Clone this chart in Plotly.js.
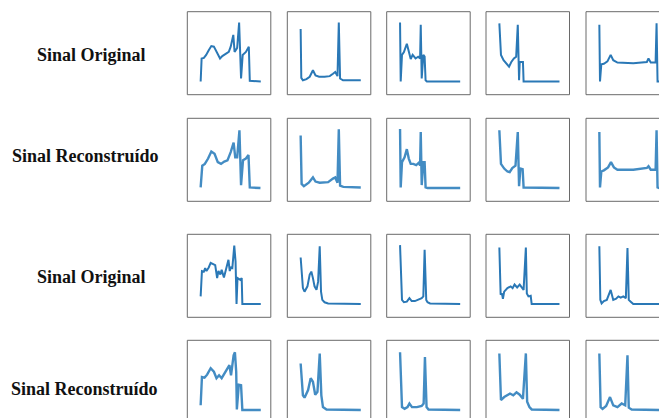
<!DOCTYPE html>
<html>
<head>
<meta charset="utf-8">
<script src="https://cdn.plot.ly/plotly-3.0.1.min.js"></script>
<style>html,body{margin:0;padding:0;background:#fff;}#chart{width:659px;height:418px;}</style>
</head>
<body>
<div id="chart"></div>
<script>
// ---- Row labels ----
const rowLabels = ["Sinal Original", "Sinal Reconstruído", "Sinal Original", "Sinal Reconstruído"];

// ---- Group A: original beats (sample index, normalized amplitude) ----
const o1_1_t = [0,3,10,17,25,33,41,50,60,67,77,87,93,101,105,113,119,125,130,140,149,152,186];
const o1_1_v = [0,0.39,0.40,0.45,0.53,0.60,0.59,0.50,0.39,0.43,0.46,0.50,0.59,0.79,0.50,0.57,1.0,0.05,0.45,0.50,0.59,0.01,0];
const o1_2_t = [0,2,7,18,28,38,46,57,74,90,100,107,114,118,122,131,186];
const o1_2_v = [0.89,0.06,0.02,0.04,0.08,0.19,0.10,0.08,0.08,0.09,0.13,0.16,0.09,1.0,0.05,0.02,0.02];
const o1_3_t = [0,2,6,12,21,27,33,39,48,56,62,64,67,72,76,79,83,186];
const o1_3_v = [1.0,0,0.45,0.50,0.64,0.50,0.38,0.45,0.39,0.42,0.39,0.96,0.05,0.45,0.42,0.02,0,0];
const o1_4_t = [0,5,13,23,30,37,45,52,57,61,63,73,75,186];
const o1_4_v = [0.985,0.45,0.36,0.30,0.25,0.33,0.39,0.42,0.96,0.02,0.33,0.33,0,0];
const o1_5_t = [0,2,6,14,25,35,43,56,105,147,152,159,174,177,180,186];
const o1_5_v = [0.96,0,0.29,0.30,0.34,0.45,0.36,0.32,0.31,0.33,0.39,0.32,0.32,0.985,0,0];

// ---- Group A: reconstructed beats ----
const r1_1_t = [0,5,13,23,33,43,53,63,73,83,93,102,107,113,120,125,131,140,148,152,185];
const r1_1_v = [0.01,0.38,0.41,0.50,0.62,0.58,0.44,0.41,0.45,0.47,0.61,0.77,0.52,0.52,0.98,0.05,0.47,0.50,0.56,0.01,0];
const r1_2_t = [0,3,10,25,38,46,59,85,100,107,114,118,122,132,186];
const r1_2_v = [0.89,0.07,0.03,0.09,0.18,0.11,0.09,0.10,0.16,0.18,0.09,0.995,0.04,0.02,0.01];
const r1_3_t = [0,2,6,14,21,27,33,41,50,58,62,64,67,72,76,79,85,186];
const r1_3_v = [1.0,0.01,0.44,0.52,0.66,0.50,0.41,0.41,0.39,0.43,0.38,0.95,0.05,0.44,0.44,0.01,0,0];
const r1_4_t = [0,5,15,25,32,40,50,57,61,65,72,75,186];
const r1_4_v = [0.98,0.41,0.33,0.28,0.27,0.34,0.38,0.95,0.03,0.33,0.32,0.01,0];
const r1_5_t = [0,2,6,14,27,36,45,56,105,147,152,159,174,177,180,186];
const r1_5_v = [0.95,0.01,0.28,0.30,0.35,0.44,0.35,0.31,0.31,0.34,0.37,0.31,0.31,0.98,0.01,0];

// ---- Group B: original beats ----
const o2_1_t = [0,4,10,14,18,25,31,38,45,51,55,61,65,72,76,82,86,90,94,98,102,104,108,111,114,123,127,129,186];
const o2_1_v = [0.13,0.56,0.55,0.61,0.56,0.62,0.70,0.68,0.66,0.44,0.56,0.50,0.58,0.45,0.55,0.67,0.75,0.56,0.62,0.61,0.95,0.99,0.72,0,0.44,0.41,0.44,0,0];
const o2_2_t = [0,7,12,21,28,33,38,43,49,54,59,63,67,74,85,186];
const o2_2_v = [0.79,0.27,0.21,0.30,0.50,0.55,0.44,0.30,0.24,0.38,0.98,0.21,0.07,0.03,0.01,0];
const o2_3_t = [0,6,12,21,29,36,46,57,67,72,76,81,85,93,186];
const o2_3_v = [1.0,0.07,0.03,0.04,0.10,0.05,0.05,0.07,0.10,0.13,0.92,0.07,0.03,0.01,0];
const o2_4_t = [0,4,8,11,15,25,35,41,47,55,63,67,75,82,85,90,97,100,186];
const o2_4_v = [0.96,0.16,0.18,0.09,0.21,0.27,0.30,0.27,0.33,0.28,0.33,0.30,0.24,0.96,0.18,0.13,0.14,0,0];
const o2_5_t = [0,3,7,14,23,35,43,52,59,66,74,82,87,91,97,105,186];
const o2_5_v = [0.98,0.07,0.01,0.05,0.07,0.24,0.07,0.09,0.13,0.11,0.13,0.10,0.95,0.07,0.04,0,0];

// ---- Group B: reconstructed beats ----
const r2_1_t = [0,4,12,20,31,41,49,57,65,74,82,89,94,102,106,110,112,118,125,129,186];
const r2_1_v = [0.08,0.56,0.55,0.60,0.71,0.65,0.54,0.59,0.54,0.62,0.71,0.76,0.59,0.93,0.98,0.65,0.01,0.43,0.42,0,0];
const r2_2_t = [0,7,12,23,31,38,45,52,59,64,69,80,186];
const r2_2_v = [0.79,0.25,0.21,0.34,0.54,0.48,0.26,0.31,0.96,0.25,0.05,0.01,0];
const r2_3_t = [0,6,14,23,29,37,52,67,73,77,82,88,186];
const r2_3_v = [0.98,0.05,0.02,0.05,0.11,0.05,0.05,0.07,0.11,0.90,0.05,0.01,0];
const r2_4_t = [0,5,15,23,33,43,53,63,73,82,86,93,100,186];
const r2_4_v = [0.96,0.17,0.22,0.25,0.28,0.25,0.30,0.26,0.19,0.96,0.14,0.05,0.01,0];
const r2_5_t = [0,4,10,21,33,43,56,69,80,87,91,100,186];
const r2_5_v = [0.96,0.05,0.02,0.07,0.22,0.08,0.05,0.11,0.08,0.93,0.04,0.01,0];

const rowsT = [
  [o1_1_t,o1_2_t,o1_3_t,o1_4_t,o1_5_t],
  [r1_1_t,r1_2_t,r1_3_t,r1_4_t,r1_5_t],
  [o2_1_t,o2_2_t,o2_3_t,o2_4_t,o2_5_t],
  [r2_1_t,r2_2_t,r2_3_t,r2_4_t,r2_5_t]
];
const rowsV = [
  [o1_1_v,o1_2_v,o1_3_v,o1_4_v,o1_5_v],
  [r1_1_v,r1_2_v,r1_3_v,r1_4_v,r1_5_v],
  [o2_1_v,o2_2_v,o2_3_v,o2_4_v,o2_5_v],
  [r2_1_v,r2_2_v,r2_3_v,r2_4_v,r2_5_v]
];

// ---- Layout geometry (pixels) ----
const W = 659, H = 418;
const colLeft = [187.3, 287.3, 386.7, 486, 586];
const rowTop = [11.7, 118.3, 234.3, 340.3];
const boxW = 83.5, boxH = 83;
const xFull = [-41.3, 217];
const yFull = [-0.225, 1.183];
const labelX = [91, 85.5, 91, 84];
const labelY = [55, 156, 277, 389];

const traces = [];
const layout = {
  width: W, height: H,
  margin: {l:0, r:0, t:0, b:0},
  paper_bgcolor: '#ffffff', plot_bgcolor: 'rgba(0,0,0,0)',
  showlegend: false,
  shapes: [], annotations: []
};

let k = 0;
for (let r = 0; r < 4; r++) {
  for (let c = 0; c < 5; c++) {
    k++;
    const xa = k === 1 ? 'xaxis' : 'xaxis' + k;
    const ya = k === 1 ? 'yaxis' : 'yaxis' + k;
    const left = colLeft[c], right = Math.min(colLeft[c] + boxW, W);
    const top = rowTop[r], bottom = Math.min(rowTop[r] + boxH, H);
    const fx = (right - left) / boxW, fy = (bottom - top) / boxH;
    layout[xa] = {
      domain: [left / W, right / W],
      range: [xFull[0], xFull[0] + (xFull[1] - xFull[0]) * fx],
      visible: false, fixedrange: true,
      anchor: k === 1 ? 'y' : 'y' + k
    };
    layout[ya] = {
      domain: [1 - bottom / H, 1 - top / H],
      range: [yFull[1] - (yFull[1] - yFull[0]) * fy, yFull[1]],
      visible: false, fixedrange: true,
      anchor: k === 1 ? 'x' : 'x' + k
    };
    const recon = (r % 2 === 1);
    traces.push({
      type: 'scatter', mode: 'lines',
      x: rowsT[r][c], y: rowsV[r][c],
      xaxis: k === 1 ? 'x' : 'x' + k,
      yaxis: k === 1 ? 'y' : 'y' + k,
      line: {color: recon ? '#2f7fbd' : '#2a78b6', width: recon ? 2.4 : 2},
      opacity: recon ? 0.9 : 1,
      hoverinfo: 'skip'
    });
    layout.shapes.push({
      type: 'rect', xref: 'paper', yref: 'paper',
      x0: colLeft[c] / W, x1: (colLeft[c] + boxW) / W,
      y0: 1 - (rowTop[r] + boxH) / H, y1: 1 - rowTop[r] / H,
      line: {color: '#6a6a6a', width: 1}, fillcolor: 'rgba(0,0,0,0)'
    });
  }
  layout.annotations.push({
    xref: 'paper', yref: 'paper',
    x: labelX[r] / W, y: 1 - labelY[r] / H,
    xanchor: 'center', yanchor: 'middle',
    text: '<b>' + rowLabels[r] + '</b>', showarrow: false,
    font: {family: 'Liberation Serif, Times New Roman, serif', size: 18, color: '#111111'}
  });
}

Plotly.newPlot('chart', traces, layout, {staticPlot: true, displayModeBar: false});
</script>
</body>
</html>
